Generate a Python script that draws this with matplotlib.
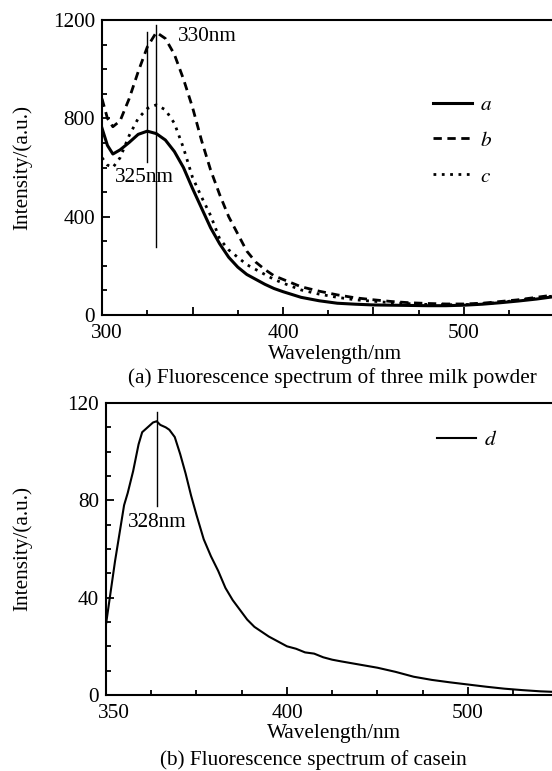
import numpy as np
import matplotlib
matplotlib.use("Agg")
import matplotlib.pyplot as plt
import matplotlib.transforms as mtransforms
from matplotlib.ticker import MultipleLocator, FixedLocator, FixedFormatter

plt.rcParams['font.family'] = ['Liberation Serif', 'DejaVu Serif']
plt.rcParams['mathtext.fontset'] = 'stix'

# (a) three milk powder samples
wl_a = [300, 303, 306, 310, 315, 320, 325, 330, 335, 340, 345, 350, 355, 360,
        365, 370, 375, 380, 385, 390, 395, 400, 410, 420, 430, 440, 450, 460,
        470, 480, 490, 500, 510, 520, 530, 540, 550]
curve_a = [760, 690, 655, 672, 702, 735, 748, 738, 712, 665, 600, 515, 435, 355,
           290, 235, 195, 165, 145, 125, 108, 95, 72, 58, 48, 44, 41, 40,
           39, 38, 38, 40, 44, 50, 57, 65, 75]
curve_b = [880, 800, 766, 790, 880, 990, 1090, 1150, 1125, 1060, 960, 845, 710, 590,
           490, 400, 330, 260, 215, 185, 160, 145, 115, 97, 82, 70, 62, 55,
           50, 47, 45, 45, 48, 55, 62, 72, 82]
curve_c = [640, 610, 600, 640, 730, 800, 840, 855, 835, 780, 680, 560, 480, 405,
           310, 265, 235, 205, 185, 165, 145, 130, 102, 85, 72, 62, 56, 50,
           46, 43, 42, 42, 46, 52, 60, 68, 78]

# (b) casein
wl_b = [300, 305, 310, 312, 315, 318, 320, 323, 326, 328, 330, 333, 335, 338,
        341, 344, 347, 350, 354, 358, 362, 366, 370, 374, 378, 382, 386, 390,
        395, 400, 405, 410, 415, 420, 425, 430, 440, 450, 460, 470, 480, 490,
        500, 510, 520, 530, 540, 550]
curve_d = [29, 55, 78, 83, 92, 103, 108, 110, 112, 112.5, 111, 110, 109, 106,
           99, 91, 82, 74, 64, 57, 51, 44, 39, 35, 31, 28, 26, 24,
           22, 20, 19, 17.5, 17, 15.5, 14.5, 13.8, 12.5, 11.2, 9.5, 7.5, 6.2, 5.2,
           4.3, 3.4, 2.6, 2.0, 1.5, 1.2]
b_xticks = [300, 400, 500]
b_xtick_labels = ["350", "400", "500"]

FS = 15.3

fig = plt.figure(figsize=(5.52, 7.71), dpi=100)
ax1 = fig.add_axes([0.1848, 0.5914, 0.8197, 0.3826])
ax2 = fig.add_axes([0.192, 0.0986, 0.8197, 0.3787])


def style_axes(ax):
    for s in ['left', 'bottom', 'top', 'right']:
        ax.spines[s].set_linewidth(1.5)
    ax.tick_params(which='both', direction='in', labelsize=FS, top=False, right=False)
    ax.tick_params(which='major', length=6, width=1.3)
    ax.tick_params(which='minor', length=3.5, width=1.3)
    ax.tick_params(axis='x', pad=6.3)
    ax.tick_params(axis='y', pad=5)


def nudge_xlabel_at(ax, loc, dx_px):
    # push the x tick label at the axis origin right so it clears the "0" of the y axis
    for tick in ax.xaxis.get_major_ticks():
        if abs(tick.get_loc() - loc) < 1e-6:
            lab = tick.label1
            lab.set_transform(lab.get_transform() +
                              mtransforms.ScaledTranslation(dx_px / 100, 0, fig.dpi_scale_trans))


# panel (a)
ax1.plot(wl_a, curve_a, color='black', lw=2.2, label='$a$')
ax1.plot(wl_a, curve_b, color='black', lw=2.0, dashes=(3, 2), label='$b$')
ax1.plot(wl_a, curve_c, color='black', lw=2.0, dashes=(1, 2), label='$c$')
ax1.plot([325, 325], [624, 1153], color='black', lw=1)
ax1.plot([330, 330], [278, 1180], color='black', lw=1)
ax1.text(342, 1135, '330nm', fontsize=FS, va='center', ha='left')
ax1.text(307, 561, '325nm', fontsize=FS, va='center', ha='left')
ax1.set_xlim(300, 550)
ax1.set_ylim(0, 1200)
ax1.xaxis.set_major_locator(MultipleLocator(50))
ax1.xaxis.set_major_formatter(plt.FuncFormatter(lambda v, p: '%d' % v if v % 100 == 0 else ''))
ax1.xaxis.set_minor_locator(MultipleLocator(25))
ax1.yaxis.set_major_locator(MultipleLocator(400))
ax1.yaxis.set_minor_locator(MultipleLocator(100))
style_axes(ax1)
ax1.set_xlabel('Wavelength/nm', fontsize=FS)
ax1.xaxis.set_label_coords(0.514, -0.1)
ax1.set_ylabel('Intensity/(a.u.)', fontsize=FS)
ax1.yaxis.set_label_coords(-0.155, 0.5)
ax1.legend(loc='upper left', bbox_to_anchor=(0.69, 0.81), frameon=False,
           fontsize=FS, handlelength=1.8, handletextpad=0.4, labelspacing=0.75)
ax1.text(0.51, -0.2136, '(a) Fluorescence spectrum of three milk powder', fontsize=FS,
         ha='center', va='center', transform=ax1.transAxes)

# panel (b)
ax2.plot(wl_b, curve_d, color='black', lw=1.5, label='$d$')
ax2.plot([328, 328], [77.7, 116.4], color='black', lw=1)
ax2.text(312, 70.7, '328nm', fontsize=FS, va='center', ha='left')
ax2.set_xlim(300, 550)
ax2.set_ylim(0, 120)
ax2.xaxis.set_major_locator(FixedLocator(b_xticks))
ax2.xaxis.set_major_formatter(FixedFormatter(b_xtick_labels))
ax2.xaxis.set_minor_locator(MultipleLocator(25))
ax2.yaxis.set_major_locator(MultipleLocator(40))
ax2.yaxis.set_minor_locator(MultipleLocator(10))
style_axes(ax2)
ax2.set_xlabel('Wavelength/nm', fontsize=FS)
ax2.xaxis.set_label_coords(0.505, -0.1)
ax2.set_ylabel('Intensity/(a.u.)', fontsize=FS)
ax2.yaxis.set_label_coords(-0.1635, 0.5)
ax2.legend(loc='upper left', bbox_to_anchor=(0.69, 0.971), frameon=False,
           fontsize=FS, handlelength=1.8, handletextpad=0.4)
ax2.text(0.458, -0.2226, '(b) Fluorescence spectrum of casein', fontsize=FS,
         ha='center', va='center', transform=ax2.transAxes)

fig.canvas.draw()
nudge_xlabel_at(ax1, 300, 5)
nudge_xlabel_at(ax2, 300, 8)

fig.savefig('out.png', dpi=100)
